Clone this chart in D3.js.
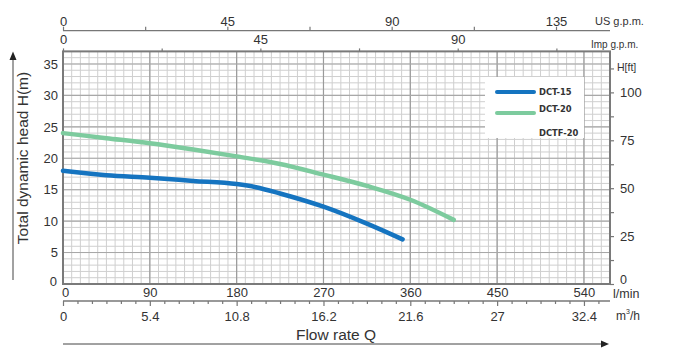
<!DOCTYPE html>
<html><head><meta charset="utf-8">
<script src="https://cdn.jsdelivr.net/npm/d3@7"></script>
<style>
body{margin:0;background:#fff;}
svg{font-family:"Liberation Sans",Arial,sans-serif;}
</style></head>
<body><svg id="c" width="673" height="359"></svg>
<script>
// ---- data ----
const flowTicks = [0, 90, 180, 270, 360, 450, 540];          // l/min
const m3hTicks = [0, 5.4, 10.8, 16.2, 21.6, 27, 32.4];        // m3/h
const usTicks = [0, 45, 90, 135];                              // US g.p.m.
const impTicks = [0, 45, 90];                                  // Imp g.p.m.
const headTicks = [0, 5, 10, 15, 20, 25, 30, 35];              // m
const ftTicks = [0, 25, 50, 75, 100];                          // ft
const seriesNames = ["DCT-15", "DCT-20 / DCTF-20"];
const dct15Flow = [0, 45, 90, 135, 180, 200, 225, 270, 315, 352];
const dct15Head = [18.0, 17.3, 16.9, 16.4, 15.9, 15.4, 14.4, 12.3, 9.6, 7.1];
const dct20Flow = [0, 45, 90, 135, 180, 225, 270, 315, 360, 405];
const dct20Head = [24.0, 23.2, 22.4, 21.4, 20.3, 19.1, 17.4, 15.6, 13.4, 10.2];

// ---- layout ----
const svg = d3.select("#c");
const L = 63, R = 610, T = 51.4, B = 284;
const qMax = 567, hMax = 37;
const x = d3.scaleLinear().domain([0, qMax]).range([L, R]);
const y = d3.scaleLinear().domain([0, hMax]).range([B, T]);
const xUS = d3.scaleLinear().domain([0, qMax / 3.785411784]).range([L, R]);
const xImp = d3.scaleLinear().domain([0, qMax / 4.54609]).range([L, R]);
const xM3 = d3.scaleLinear().domain([0, qMax * 0.06]).range([L, R]);
const yFt = d3.scaleLinear().domain([0, hMax / 0.3048]).range([B, T]);
const txt = "#333";

// grid
const g = svg.append("g");
g.selectAll(".vmin").data(d3.range(0, qMax + 0.1, 9)).join("line")
  .attr("x1", d => x(d)).attr("x2", d => x(d)).attr("y1", T).attr("y2", B)
  .attr("stroke", "#cfcfcf").attr("stroke-width", 1);
g.selectAll(".hmin").data(d3.range(0, hMax + 0.1, 1)).join("line")
  .attr("x1", L).attr("x2", R).attr("y1", d => y(d)).attr("y2", d => y(d))
  .attr("stroke", "#cfcfcf").attr("stroke-width", 1);
g.selectAll(".vmaj").data(flowTicks).join("line")
  .attr("x1", d => x(d)).attr("x2", d => x(d)).attr("y1", T).attr("y2", B)
  .attr("stroke", "#9a9a9a").attr("stroke-width", 1.2);
g.selectAll(".hmaj").data(headTicks).join("line")
  .attr("x1", L).attr("x2", R).attr("y1", d => y(d)).attr("y2", d => y(d))
  .attr("stroke", "#a8a8a8").attr("stroke-width", 1.1);

// legend box (covers grid)
svg.append("rect").attr("x", 485).attr("y", 77).attr("width", 99).attr("height", 61).attr("fill", "#fff");

// border
svg.append("rect").attr("x", L).attr("y", T).attr("width", R - L).attr("height", B - T)
  .attr("fill", "none").attr("stroke", "#7a7a7a").attr("stroke-width", 2);

// curves
const line = d3.line().x(d => x(d[0])).y(d => y(d[1])).curve(d3.curveMonotoneX);
svg.append("path").datum(dct20Flow.map((f, i) => [f, dct20Head[i]]))
  .attr("d", line).attr("fill", "none").attr("stroke", "#7dcb9e").attr("stroke-width", 4.5).attr("stroke-linecap", "round");
svg.append("path").datum(dct15Flow.map((f, i) => [f, dct15Head[i]]))
  .attr("d", line).attr("fill", "none").attr("stroke", "#1574c0").attr("stroke-width", 4.5).attr("stroke-linecap", "round");

function styleAxis(sel, fs) {
  sel.selectAll("path.domain").attr("stroke", "#777").attr("stroke-width", 1.3);
  sel.selectAll(".tick line").attr("stroke", "#777").attr("stroke-width", 1.2);
  sel.selectAll("text").attr("fill", txt).attr("font-size", fs).attr("font-family", "Liberation Sans, Arial, sans-serif");
}

// top US gpm axis
const usAx = svg.append("g").attr("transform", "translate(0,30.7)")
  .call(d3.axisTop(xUS).tickValues(d3.range(0, 150, 22.5)).tickSize(4).tickSizeOuter(0).tickPadding(1)
    .tickFormat(d => usTicks.includes(d) ? d : ""));
usAx.select("path.domain").attr("d", `M${L},0H${R}`);
styleAxis(usAx, 13);

// top Imp gpm axis
const impAx = svg.append("g").attr("transform", `translate(0,${T})`)
  .call(d3.axisTop(xImp).tickValues(d3.range(0, 125, 22.5)).tickSize(3).tickSizeOuter(0).tickPadding(4)
    .tickFormat(d => impTicks.includes(d) ? d : ""));
impAx.select("path.domain").remove();
styleAxis(impAx, 13);

// left head axis (labels only)
const yAx = svg.append("g").attr("transform", `translate(${L - 4},0)`)
  .call(d3.axisLeft(y).tickValues(headTicks).tickSize(0).tickPadding(1));
yAx.select("path.domain").remove();
styleAxis(yAx, 13);
yAx.selectAll(".tick").filter(d => d === 0).select("text").attr("dy", "0.15em").attr("x", -2);

// right ft axis
const ftAx = svg.append("g").attr("transform", `translate(${R},0)`)
  .call(d3.axisRight(yFt).tickValues(d3.range(0, 120, 12.5)).tickSize(4).tickSizeOuter(0).tickPadding(6)
    .tickFormat(d => ftTicks.includes(d) ? d : ""));
ftAx.select("path.domain").remove();
styleAxis(ftAx, 13);
ftAx.selectAll(".tick").filter(d => d === 0).select("text").attr("dy", "-0.05em").attr("font-size", 12.5);

// bottom l/min axis (labels only)
const qAx = svg.append("g").attr("transform", `translate(0,${B})`)
  .call(d3.axisBottom(x).tickValues(flowTicks).tickSize(0).tickPadding(4));
qAx.select("path.domain").remove();
styleAxis(qAx, 13);
qAx.selectAll(".tick").filter(d => d === 0).select("text").attr("x", 2);

// m3/h axis
const mAx = svg.append("g").attr("transform", "translate(0,301)")
  .call(d3.axisBottom(xM3).tickValues(d3.range(0, 33.5, 0.9)).tickSize(3).tickSizeOuter(0).tickPadding(8)
    .tickFormat(d => { const m = m3hTicks.find(t => Math.abs(t - d) < 1e-6); return m !== undefined ? m : ""; }));
mAx.select("path.domain").attr("d", `M${L},0H${R}`);
mAx.selectAll(".tick").filter(d => m3hTicks.some(t => Math.abs(t - d) < 1e-6)).select("line").attr("y2", 5);
styleAxis(mAx, 13);

// unit labels
const unit = (t, xx, yy, fs) => svg.append("text").attr("x", xx).attr("y", yy).attr("font-size", fs)
  .attr("fill", txt).attr("dominant-baseline", "middle").text(t);
unit("US g.p.m.", 595, 22, 11);
unit("Imp g.p.m.", 591, 45, 10);
unit("H[ft]", 617, 68, 10.5);
unit("l/min", 613, 294.5, 12.5);
svg.append("text").attr("x", 616).attr("y", 317).attr("font-size", 12).attr("fill", txt)
  .attr("dominant-baseline", "middle").html('m<tspan dy="-5" font-size="7">3</tspan><tspan dy="5">/h</tspan>');

// titles
svg.append("text").attr("x", 336).attr("y", 336).attr("text-anchor", "middle").attr("dominant-baseline", "middle")
  .attr("font-size", 15.5).attr("fill", txt).text("Flow rate Q");
svg.append("text").attr("transform", "translate(24,158) rotate(-90)").attr("text-anchor", "middle")
  .attr("dominant-baseline", "middle").attr("font-size", 15.5).attr("fill", txt).text("Total dynamic head H(m)");

// arrows
svg.append("line").attr("x1", L).attr("x2", 603).attr("y1", 344).attr("y2", 344).attr("stroke", "#444").attr("stroke-width", 1);
svg.append("path").attr("d", "M609,344 L601,340.5 L601,347.5 Z").attr("fill", "#222");
svg.append("line").attr("x1", 13).attr("x2", 13).attr("y1", 280).attr("y2", 58).attr("stroke", "#444").attr("stroke-width", 1);
svg.append("path").attr("d", "M13,51.5 L9.5,60 L16.5,60 Z").attr("fill", "#222");

// legend
const lg = svg.append("g").attr("font-family", "DejaVu Sans Condensed, DejaVu Sans, sans-serif").attr("font-weight", "bold").attr("font-size", 9.3).attr("fill", txt);
lg.append("line").attr("x1", 497).attr("x2", 534).attr("y1", 92).attr("y2", 92).attr("stroke", "#1574c0").attr("stroke-width", 4).attr("stroke-linecap", "round");
lg.append("line").attr("x1", 497).attr("x2", 534).attr("y1", 113).attr("y2", 113).attr("stroke", "#7dcb9e").attr("stroke-width", 4).attr("stroke-linecap", "round");
lg.append("text").attr("x", 539).attr("y", 92).attr("dominant-baseline", "middle").text("DCT-15");
lg.append("text").attr("x", 539).attr("y", 109).attr("dominant-baseline", "middle").text("DCT-20");
lg.append("text").attr("x", 539).attr("y", 133).attr("dominant-baseline", "middle").text("DCTF-20");
</script></body></html>
